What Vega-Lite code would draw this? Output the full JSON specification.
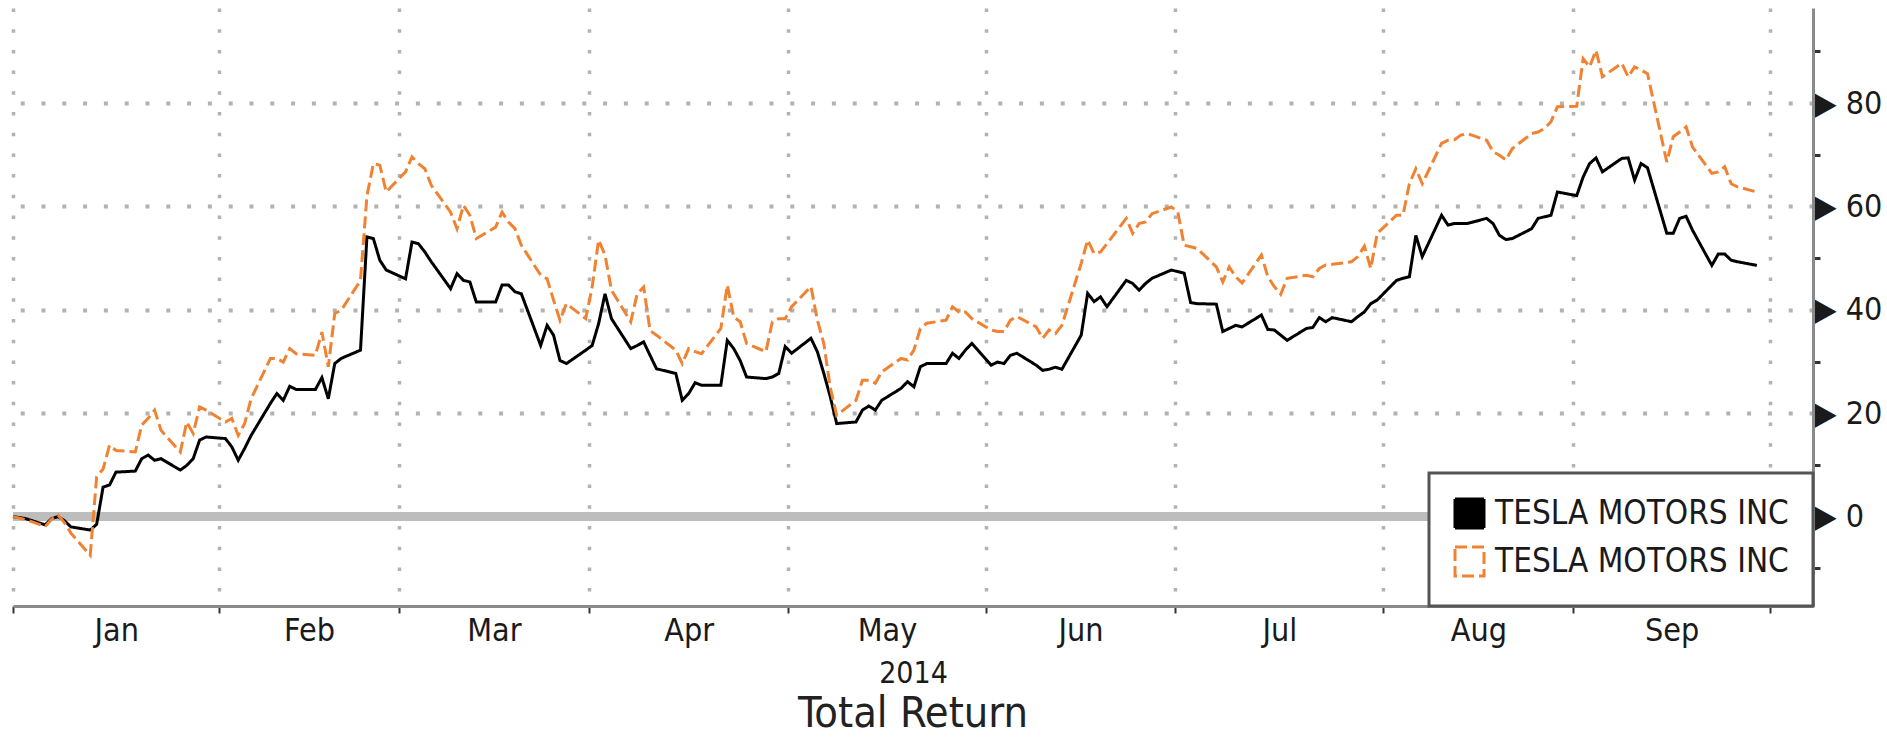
{
  "$schema": "https://vega.github.io/schema/vega-lite/v6.json",
  "width": 1800,
  "height": 598,
  "autosize": {"type": "none"},
  "padding": {"left": 13, "top": 8, "right": 74, "bottom": 135},
  "background": "white",
  "config": {"view": {"stroke": null}, "font": "DejaVu Sans Condensed"},
  "title": {"text": "Total Return", "orient": "bottom", "anchor": "middle", "frame": "group", "fontSize": 43, "fontWeight": "normal", "font": "DejaVu Sans Condensed", "color": "#222222", "offset": 5},
  "layer": [
    {
      "data": {"values": [{"k": 0}]},
      "mark": {"type": "rule", "color": "#bdbdbd", "strokeWidth": 9},
      "encoding": {
        "x": {"datum": 1388534400000, "type": "temporal",
          "scale": {"type": "utc", "domain": [1388534400000, 1412702208000]},
          "axis": {"orient": "bottom", "values": [1389921120000, 1392508800000, 1394990208000, 1397606400000, 1400269248000, 1402868160000, 1405537056000, 1408208544000, 1410804864000],
            "format": "%b", "domain": false, "ticks": false, "tickSize": 0, "grid": false, "labelFont": "DejaVu Sans Condensed", "labelFontSize": 32, "labelColor": "#1a1a1a", "labelPadding": 9,
            "title": "2014", "titleFont": "DejaVu Sans Condensed", "titleFontSize": 30, "titleFontWeight": "normal", "titleColor": "#1a1a1a", "titlePadding": 12}},
        "x2": {"datum": 1412702208000},
        "y": {"datum": 0, "type": "quantitative"}
      }
    },
    {
      "data": {"values": [
        {"d":"2014-01-01","b":0,"o":0},{"d":"2014-01-02","b":-0.2,"o":-0.3},{"d":"2014-01-03","b":-0.4,"o":-0.6},{"d":"2014-01-06","b":-1.6,"o":-1.9},{"d":"2014-01-07","b":-0.4,"o":-0.5},{"d":"2014-01-08","b":0,"o":0.3},{"d":"2014-01-09","b":-0.8,"o":-1.2},{"d":"2014-01-10","b":-2,"o":-3.2},{"d":"2014-01-13","b":-2.6,"o":-7.5},{"d":"2014-01-14","b":-1.5,"o":7.7},{"d":"2014-01-15","b":5.7,"o":9.2},{"d":"2014-01-16","b":6.1,"o":13.8},{"d":"2014-01-17","b":8.6,"o":12.8},{"d":"2014-01-20","b":8.8,"o":12.5},{"d":"2014-01-21","b":11.2,"o":17.7},{"d":"2014-01-22","b":11.9,"o":19},{"d":"2014-01-23","b":10.9,"o":20.6},{"d":"2014-01-24","b":11.2,"o":16.7},{"d":"2014-01-27","b":9,"o":12.5},{"d":"2014-01-28","b":9.9,"o":18.3},{"d":"2014-01-29","b":11.2,"o":16.1},{"d":"2014-01-30","b":14.8,"o":21.2},{"d":"2014-01-31","b":15.4,"o":20.6},
        {"d":"2014-02-03","b":15.1,"o":18.3},{"d":"2014-02-04","b":13.5,"o":19},{"d":"2014-02-05","b":10.9,"o":15.7},{"d":"2014-02-06","b":13.2,"o":18},{"d":"2014-02-07","b":15.7,"o":22.8},{"d":"2014-02-10","b":21.9,"o":30.6},{"d":"2014-02-11","b":23.8,"o":30.6},{"d":"2014-02-12","b":22.5,"o":29.9},{"d":"2014-02-13","b":25.2,"o":32.5},{"d":"2014-02-14","b":24.6,"o":31.5},{"d":"2014-02-17","b":24.6,"o":31.2},{"d":"2014-02-18","b":26.9,"o":35.7},{"d":"2014-02-19","b":22.8,"o":29},{"d":"2014-02-20","b":29.6,"o":39.3},{"d":"2014-02-21","b":30.6,"o":39.9},{"d":"2014-02-24","b":32.2,"o":45.7},{"d":"2014-02-25","b":54.1,"o":62},{"d":"2014-02-26","b":53.8,"o":68.3},{"d":"2014-02-27","b":49.6,"o":68},{"d":"2014-02-28","b":47.7,"o":62.8},
        {"d":"2014-03-03","b":46,"o":66.7},{"d":"2014-03-04","b":53.1,"o":69.6},{"d":"2014-03-05","b":52.8,"o":68.3},{"d":"2014-03-06","b":51.2,"o":67.3},{"d":"2014-03-07","b":49.3,"o":64.1},{"d":"2014-03-10","b":44.1,"o":58.9},{"d":"2014-03-11","b":47,"o":55.7},{"d":"2014-03-12","b":45.7,"o":60.2},{"d":"2014-03-13","b":45.4,"o":58.3},{"d":"2014-03-14","b":41.5,"o":53.8},{"d":"2014-03-17","b":41.5,"o":56},{"d":"2014-03-18","b":44.8,"o":58.9},{"d":"2014-03-19","b":44.8,"o":57},{"d":"2014-03-20","b":43.5,"o":55.7},{"d":"2014-03-21","b":43.1,"o":52.5},{"d":"2014-03-24","b":33.1,"o":46.7},{"d":"2014-03-25","b":37,"o":46},{"d":"2014-03-26","b":35.1,"o":41.9},{"d":"2014-03-27","b":30.2,"o":38},{"d":"2014-03-28","b":29.6,"o":41.2},{"d":"2014-03-31","b":32.2,"o":38.3},
        {"d":"2014-04-01","b":33.1,"o":44.4},{"d":"2014-04-02","b":37.3,"o":53.5},{"d":"2014-04-03","b":43.1,"o":50.6},{"d":"2014-04-04","b":38.3,"o":43.8},{"d":"2014-04-07","b":32.5,"o":37.7},{"d":"2014-04-08","b":33.1,"o":43.1},{"d":"2014-04-09","b":33.8,"o":44.4},{"d":"2014-04-10","b":31.2,"o":36},{"d":"2014-04-11","b":28.6,"o":35.1},{"d":"2014-04-14","b":27.7,"o":32.2},{"d":"2014-04-15","b":22.5,"o":29.6},{"d":"2014-04-16","b":23.8,"o":32.5},{"d":"2014-04-17","b":25.9,"o":31.9},{"d":"2014-04-18","b":25.4,"o":31.5},{"d":"2014-04-21","b":25.4,"o":36.4},{"d":"2014-04-22","b":34.1,"o":44.8},{"d":"2014-04-23","b":32.5,"o":38.6},{"d":"2014-04-24","b":30.2,"o":37.7},{"d":"2014-04-25","b":27,"o":33.5},{"d":"2014-04-28","b":26.7,"o":31.9},{"d":"2014-04-29","b":27,"o":37.7},{"d":"2014-04-30","b":27.7,"o":38.3},
        {"d":"2014-05-01","b":32.9,"o":38.3},{"d":"2014-05-02","b":31.6,"o":40.6},{"d":"2014-05-05","b":34.5,"o":44.5},{"d":"2014-05-06","b":31.9,"o":38},{"d":"2014-05-07","b":27.7,"o":33.5},{"d":"2014-05-08","b":23.2,"o":25},{"d":"2014-05-09","b":18,"o":19.6},{"d":"2014-05-12","b":18.3,"o":22.5},{"d":"2014-05-13","b":20.6,"o":26.4},{"d":"2014-05-14","b":21.4,"o":26.4},{"d":"2014-05-15","b":20.6,"o":25.8},{"d":"2014-05-16","b":22.5,"o":28},{"d":"2014-05-19","b":24.8,"o":30.6},{"d":"2014-05-20","b":26.1,"o":30.3},{"d":"2014-05-21","b":25.1,"o":32.2},{"d":"2014-05-22","b":29,"o":36.4},{"d":"2014-05-23","b":29.6,"o":37.4},{"d":"2014-05-26","b":29.6,"o":38},{"d":"2014-05-27","b":31.6,"o":40.6},{"d":"2014-05-28","b":30.6,"o":39.6},{"d":"2014-05-29","b":32.2,"o":39.6},{"d":"2014-05-30","b":33.5,"o":38.3},
        {"d":"2014-06-02","b":29.3,"o":36.1},{"d":"2014-06-03","b":29.9,"o":35.8},{"d":"2014-06-04","b":29.6,"o":35.8},{"d":"2014-06-05","b":31.2,"o":38},{"d":"2014-06-06","b":31.6,"o":38.7},{"d":"2014-06-09","b":29.3,"o":36.7},{"d":"2014-06-10","b":28.3,"o":34.5},{"d":"2014-06-11","b":28.5,"o":36.1},{"d":"2014-06-12","b":28.9,"o":35.4},{"d":"2014-06-13","b":28.5,"o":37},{"d":"2014-06-16","b":35.1,"o":49},{"d":"2014-06-17","b":43.2,"o":53.5},{"d":"2014-06-18","b":41.6,"o":50.9},{"d":"2014-06-19","b":42.5,"o":51.2},{"d":"2014-06-20","b":40.6,"o":52.8},{"d":"2014-06-23","b":45.7,"o":57.7},{"d":"2014-06-24","b":45.1,"o":54.8},{"d":"2014-06-25","b":43.8,"o":56.7},{"d":"2014-06-26","b":45.1,"o":57},{"d":"2014-06-27","b":46.1,"o":58.6},{"d":"2014-06-30","b":47.7,"o":59.9},
        {"d":"2014-07-01","b":47.4,"o":59},{"d":"2014-07-02","b":47.1,"o":52.5},{"d":"2014-07-03","b":41.4,"o":52.2},{"d":"2014-07-04","b":41.2,"o":51.9},{"d":"2014-07-07","b":41.1,"o":48.3},{"d":"2014-07-08","b":35.8,"o":45.4},{"d":"2014-07-09","b":36.4,"o":48.3},{"d":"2014-07-10","b":37,"o":46.4},{"d":"2014-07-11","b":36.7,"o":45.2},{"d":"2014-07-14","b":39,"o":50.6},{"d":"2014-07-15","b":36.2,"o":46.4},{"d":"2014-07-16","b":36.1,"o":44.5},{"d":"2014-07-17","b":35.1,"o":43},{"d":"2014-07-18","b":34.1,"o":46.1},{"d":"2014-07-21","b":36.4,"o":46.7},{"d":"2014-07-22","b":36.6,"o":46.4},{"d":"2014-07-23","b":38.5,"o":48},{"d":"2014-07-24","b":37.7,"o":48.7},{"d":"2014-07-25","b":38.5,"o":48.8},{"d":"2014-07-28","b":37.7,"o":49.3},{"d":"2014-07-29","b":38.7,"o":50.3},{"d":"2014-07-30","b":39.6,"o":52.3},{"d":"2014-07-31","b":41.2,"o":48},
        {"d":"2014-08-01","b":41.9,"o":54.8},{"d":"2014-08-04","b":45.7,"o":58.3},{"d":"2014-08-05","b":46.1,"o":58.3},{"d":"2014-08-06","b":46.4,"o":64.4},{"d":"2014-08-07","b":54.4,"o":67.3},{"d":"2014-08-08","b":50.3,"o":64.4},{"d":"2014-08-11","b":58.3,"o":72.2},{"d":"2014-08-12","b":56.4,"o":72.8},{"d":"2014-08-13","b":56.7,"o":72.9},{"d":"2014-08-14","b":56.7,"o":73.8},{"d":"2014-08-15","b":56.7,"o":74.1},{"d":"2014-08-18","b":57.7,"o":72.8},{"d":"2014-08-19","b":56.7,"o":70.6},{"d":"2014-08-20","b":54.4,"o":69.9},{"d":"2014-08-21","b":53.6,"o":69},{"d":"2014-08-22","b":53.8,"o":71.2},{"d":"2014-08-25","b":55.7,"o":74.1},{"d":"2014-08-26","b":57.7,"o":74.4},{"d":"2014-08-27","b":58,"o":75.1},{"d":"2014-08-28","b":58.3,"o":76.4},{"d":"2014-08-29","b":62.8,"o":79.3},
        {"d":"2014-09-01","b":62.1,"o":79.4},{"d":"2014-09-02","b":65.7,"o":88.6},{"d":"2014-09-03","b":68.3,"o":87},{"d":"2014-09-04","b":69.4,"o":90.2},{"d":"2014-09-05","b":66.7,"o":85.1},{"d":"2014-09-08","b":69.3,"o":87.7},{"d":"2014-09-09","b":69.4,"o":85.1},{"d":"2014-09-10","b":65.1,"o":87},{"d":"2014-09-11","b":68.3,"o":86.4},{"d":"2014-09-12","b":67.5,"o":85.7},{"d":"2014-09-15","b":54.8,"o":68.6},{"d":"2014-09-16","b":54.8,"o":73.5},{"d":"2014-09-17","b":57.7,"o":74.4},{"d":"2014-09-18","b":58.1,"o":75.4},{"d":"2014-09-19","b":55.4,"o":71.5},{"d":"2014-09-22","b":48.6,"o":66.4},{"d":"2014-09-23","b":50.8,"o":66.7},{"d":"2014-09-24","b":50.8,"o":67.7},{"d":"2014-09-25","b":49.6,"o":64.4},{"d":"2014-09-26","b":49.3,"o":63.8},{"d":"2014-09-29","b":48.6,"o":62.8}
      ]},
      "transform": [{"fold": ["b", "o"], "as": ["series", "value"]}],
      "mark": {"type": "line", "strokeWidth": 3},
      "encoding": {
        "x": {"field": "d", "type": "temporal",
          "scale": {"type": "utc", "domain": [1388534400000, 1412702208000]},
          "axis": {"orient": "bottom", "values": [1388534400000, 1391304384000, 1393713216000, 1396268064000, 1398943872000, 1401594624000, 1404141696000, 1406932416000, 1409483808000, 1412125056000],
            "labels": false, "title": null, "domain": true, "domainColor": "#8a8a8a", "domainWidth": 3,
            "ticks": true, "tickSize": 7, "tickWidth": 2, "tickColor": "#333333",
            "grid": true, "gridColor": "#b2b2b2", "gridDash": [3.5, 17.2], "gridWidth": 3.5}},
        "y": {"field": "value", "type": "quantitative",
          "scale": {"domain": [-17.3, 98.4], "nice": false, "zero": false},
          "axis": {"orient": "right", "values": [-10, 0, 10, 20, 30, 40, 50, 60, 70, 80, 90], "title": null,
            "domain": true, "domainColor": "#8a8a8a", "domainWidth": 3,
            "ticks": true, "tickSize": 7, "tickWidth": 3, "tickColor": "#333333",
            "labelExpr": "datum.value % 20 === 0 ? '▶ ' + datum.label : ''",
            "labelFont": "DejaVu Sans Condensed", "labelFontSize": 32, "labelColor": "#1a1a1a", "labelPadding": -6,
            "grid": true, "gridColor": "#b2b2b2", "gridDash": [4, 16.8], "gridWidth": 4,
            "gridOpacity": {"condition": {"test": "datum.value > 0 && datum.value % 20 === 0", "value": 1}, "value": 0}}},
        "color": {"field": "series", "type": "nominal",
          "scale": {"domain": ["b", "o"], "range": ["#000000", "#f08232"]},
          "legend": {"orient": "bottom-right", "offset": 0, "title": null,
            "labelExpr": "'TESLA MOTORS INC'", "labelFont": "DejaVu Sans Condensed", "labelFontSize": 33, "labelColor": "#1a1a1a", "labelOffset": 9, "labelLimit": 600,
            "symbolType": "square", "symbolSize": 841, "symbolStrokeWidth": 3, "rowPadding": 7, "padding": 24,
            "fillColor": "white", "strokeColor": "#555555",
            "encode": {"symbols": {"update": {"fill": {"signal": "datum.value === 'b' ? '#000000' : 'transparent'"}}},
                       "legend": {"update": {"strokeWidth": {"value": 3}}}}}},
        "strokeDash": {"field": "series", "type": "nominal",
          "scale": {"domain": ["b", "o"], "range": [[1, 0], [12, 5]]}}
      }
    }
  ],
  "resolve": {"axis": {"x": "independent"}}
}
